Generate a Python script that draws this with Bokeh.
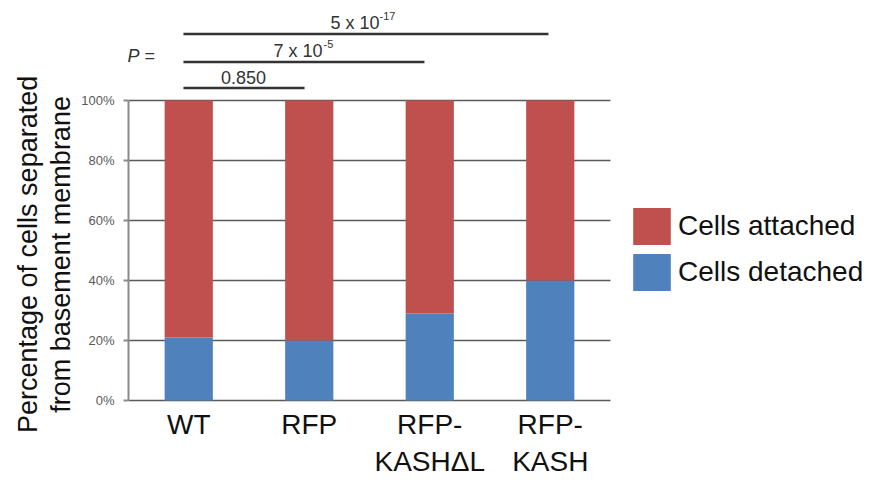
import math
from bokeh.plotting import figure
from bokeh.models import (Range1d, FixedTicker, PrintfTickFormatter,
                          Legend, LegendItem, Label)
from bokeh.embed import file_html
from bokeh.resources import INLINE

# ---- data ----
groups = ["WT", "RFP", "RFP-\nKASHΔL", "RFP-\nKASH"]
detached = [21, 20, 29, 40]
attached = [79, 80, 71, 60]
series = ["detached", "attached"]
series_labels = ["Cells detached", "Cells attached"]
colors = ["#4F81BD", "#C0504D"]
y_ticks = [0, 20, 40, 60, 80, 100]
p_values = ["0.850", "7 x 10", "5 x 10"]
p_exponents = ["", "-5", "-17"]
y_title = ["Percentage of cells separated", "from basement membrane"]

FONT = "Liberation Sans"

# ---- layout constants (pixels) ----
W, H = 866, 478
X0_PX, CAT_PX = 128, 120.5       # left edge of the category band, width per category
Y0_PX, UNIT_PX = 400, 3.0        # baseline (0 %) and pixels per percent

centers = [i + 0.5 for i in range(len(groups))]

p = figure(x_range=Range1d(-X0_PX / CAT_PX, (W - X0_PX) / CAT_PX),
           y_range=Range1d(-(H - Y0_PX) / UNIT_PX, Y0_PX / UNIT_PX),
           width=W, height=H,
           output_backend="svg", toolbar_location=None,
           min_border_left=0, min_border_right=0,
           min_border_top=0, min_border_bottom=0)
p.title.visible = False
p.outline_line_color = None
p.background_fill_color = "white"
p.border_fill_color = "white"

src = dict(x=centers, groups=groups, detached=detached, attached=attached)
rs = p.vbar_stack(series, x="x", width=0.4, color=colors, source=src,
                  line_color=None)

# y axis
p.yaxis.fixed_location = 0
p.yaxis.ticker = FixedTicker(ticks=y_ticks)
p.yaxis.formatter = PrintfTickFormatter(format="%d%%")
p.yaxis.bounds = (0, 100)
p.yaxis.axis_line_color = "#8a8a8a"
p.yaxis.axis_line_width = 2
p.yaxis.major_tick_line_color = "#8a8a8a"
p.yaxis.major_tick_line_width = 2
p.yaxis.major_tick_out = 5
p.yaxis.major_tick_in = 0
p.yaxis.minor_tick_line_color = None
p.yaxis.major_label_standoff = 9
p.yaxis.major_label_text_font = FONT
p.yaxis.major_label_text_font_size = "13px"
p.yaxis.major_label_text_color = "#595959"

# x axis (category labels)
p.xaxis.fixed_location = 0
p.xaxis.ticker = FixedTicker(ticks=centers)
p.xaxis.major_label_overrides = {c: g for c, g in zip(centers, groups)}
p.xaxis.axis_line_color = None
p.xaxis.major_tick_line_color = None
p.xaxis.minor_tick_line_color = None
p.xaxis.major_label_standoff = 2
p.xaxis.major_label_text_font = FONT
p.xaxis.major_label_text_font_size = "28px"
p.xaxis.major_label_text_color = "#111111"
p.xaxis.major_label_text_line_height = 1.2

p.xgrid.grid_line_color = None
p.ygrid.ticker = FixedTicker(ticks=y_ticks)
p.ygrid.bounds = (0, 100)
p.ygrid.cross_bounds = (0, len(groups))
p.ygrid.grid_line_color = "#5a5a5a"
p.ygrid.grid_line_width = 1.6

# y axis title (two lines)
for txt, xu in zip(y_title, [-0.830, -0.564]):
    p.add_layout(Label(x=xu, y=48.7, text=txt, angle=math.pi / 2,
                       text_align="center", text_baseline="middle",
                       text_font=FONT, text_font_size="27px", text_color="#111111"))

# significance brackets
bracket_y = [104.2, 112.8, 122.2]
bracket_x0 = 0.456
bracket_x1 = [1.461, 2.456, 3.485]
for yb, xe in zip(bracket_y, bracket_x1):
    p.line([bracket_x0, xe], [yb, yb], line_color="#333333", line_width=2.5)

p.add_layout(Label(x=0.954, y=107.6, text=p_values[0], text_align="center",
                   text_baseline="alphabetic", text_font=FONT,
                   text_font_size="18px", text_color="#333333"))
main_pos = [(1.203, 116.5), (1.676, 125.8)]
sup_pos = [(1.618, 118.9), (2.083, 128.2)]
for i in (1, 2):
    (mx, my), (sx, sy) = main_pos[i - 1], sup_pos[i - 1]
    p.add_layout(Label(x=mx, y=my, text=p_values[i], text_align="left",
                       text_baseline="alphabetic", text_font=FONT,
                       text_font_size="18px", text_color="#333333"))
    p.add_layout(Label(x=sx, y=sy, text=p_exponents[i], text_align="left",
                       text_baseline="alphabetic", text_font=FONT,
                       text_font_size="11px", text_color="#333333"))

p.add_layout(Label(x=-0.008, y=114.7, text="P", text_align="left",
                   text_baseline="alphabetic", text_font=FONT, text_font_style="italic",
                   text_font_size="18px", text_color="#333333"))
p.add_layout(Label(x=0.133, y=114.7, text="=", text_align="left",
                   text_baseline="alphabetic", text_font=FONT,
                   text_font_size="18px", text_color="#333333"))

# legend
legend = Legend(items=[LegendItem(label=series_labels[1], renderers=[rs[1]]),
                       LegendItem(label=series_labels[0], renderers=[rs[0]])],
                location=(628, 183), orientation="vertical",
                glyph_width=47, glyph_height=46, label_height=46,
                label_standoff=3, spacing=-3, padding=0, margin=0,
                border_line_color=None, background_fill_alpha=0,
                label_text_font=FONT, label_text_font_size="28px",
                label_text_color="#111111")
p.add_layout(legend)

open("out.html", "w").write(file_html(p, INLINE))
